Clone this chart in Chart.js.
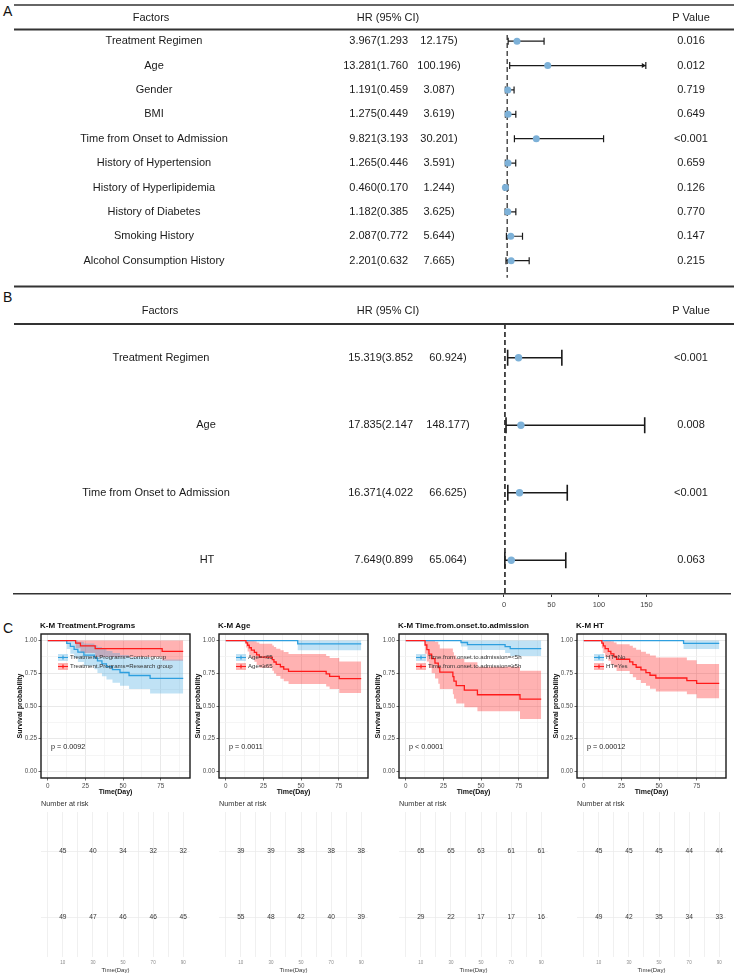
<!DOCTYPE html>
<html>
<head>
<meta charset="utf-8">
<script src="https://cdn.jsdelivr.net/npm/chart.js@4.4.1/dist/chart.umd.min.js"></script>
<style>
  body { margin: 0; background: #fff; }
  #wrap { position: relative; width: 734px; height: 976px; overflow: hidden; font-family: "Liberation Sans", Arial, sans-serif; }
  #wrap canvas { position: absolute; }
  .tag { position: absolute; font-size: 14px; line-height: 1; color: #111; }
</style>
</head>
<body>
<div id="wrap">
  <div class="tag" style="left:3px;top:4px">A</div>
  <div class="tag" style="left:3px;top:290px">B</div>
  <div class="tag" style="left:3px;top:621px">C</div>
  <canvas id="forestA" width="734" height="290" style="left:0;top:0"></canvas>
  <canvas id="forestB" width="734" height="322" style="left:0;top:288px"></canvas>
</div>
<script>
// ---- A: univariate cox ----
const factorsA = ['Treatment Regimen', 'Age', 'Gender', 'BMI', 'Time from Onset to Admission',
  'History of Hypertension', 'History of Hyperlipidemia', 'History of Diabetes', 'Smoking History',
  'Alcohol Consumption History'];
const hrA   = [3.967, 13.281, 1.191, 1.275, 9.821, 1.265, 0.460, 1.182, 2.087, 2.201];
const lowA  = [1.293, 1.760, 0.459, 0.449, 3.193, 0.446, 0.170, 0.385, 0.772, 0.632];
const highA = [12.175, 100.196, 3.087, 3.619, 30.201, 3.591, 1.244, 3.625, 5.644, 7.665];
const pA    = ['0.016', '0.012', '0.719', '0.649', '<0.001', '0.659', '0.126', '0.770', '0.147', '0.215'];

// ---- B: multivariate cox ----
const factorsB = ['Treatment Regimen', 'Age', 'Time from Onset to Admission', 'HT'];
const hrB   = [15.319, 17.835, 16.371, 7.649];
const lowB  = [3.852, 2.147, 4.022, 0.899];
const highB = [60.924, 148.177, 66.625, 65.064];
const pB    = ['<0.001', '0.008', '<0.001', '0.063'];
const ticksB = [0, 50, 100, 150];

// ---- C: K-M curves (time, survival, upper CI, lower CI) ----
const trtCtrlTime = [0, 12.6, 15, 17.5, 20, 24, 31, 33, 36, 39, 43, 48, 54, 68, 90];
const trtCtrlSurv = [1, .978, .956, .933, .911, .889, .867, .844, .822, .800, .778, .756, .733, .711, .711];
const trtCtrlUp   = [1, 1, 1, 1, .99, .978, .964, .95, .935, .92, .905, .89, .872, .855, .855];
const trtCtrlLow  = [1, .936, .899, .866, .836, .808, .78, .753, .727, .702, .678, .654, .63, .595, .595];
const trtResTime = [0, 18.5, 21.7, 31.5, 76, 90];
const trtResSurv = [1, .980, .959, .939, .918, .918];
const trtResUp   = [1, 1, 1, 1, 1, 1];
const trtResLow  = [1, .941, .905, .875, .845, .845];

const ageLowTime = [0, 47.8, 90];
const ageLowSurv = [1, .974, .974];
const ageLowUp   = [1, 1, 1];
const ageLowLow  = [1, .925, .925];
const ageHighTime = [0, 13.4, 14.5, 15.6, 17, 19, 20.5, 22.3, 30.9, 32, 33.5, 36.3, 38.5, 41.7, 66.7, 69, 75.4, 90];
const ageHighSurv = [1, .982, .964, .945, .927, .909, .891, .873, .855, .836, .818, .800, .782, .764, .745, .727, .709, .709];
const ageHighUp   = [1, 1, 1, 1, 1, .995, .985, .975, .962, .95, .938, .925, .912, .898, .882, .866, .84, .84];
const ageHighLow  = [1, .947, .916, .888, .862, .838, .814, .792, .77, .749, .729, .709, .689, .669, .649, .629, .6, .6];

const onsetLowTime = [0, 36.7, 41, 66, 69.4, 90];
const onsetLowSurv = [1, .985, .969, .954, .938, .938];
const onsetLowUp   = [1, 1, 1, 1, 1, 1];
const onsetLowLow  = [1, .955, .928, .905, .882, .882];
const onsetHighTime = [0, 12.8, 14, 15.4, 17.2, 19.4, 21.6, 22.6, 31.3, 32, 33.5, 38.9, 47.6, 75.9, 90];
const onsetHighSurv = [1, .966, .931, .897, .862, .828, .793, .759, .724, .690, .655, .621, .586, .552, .552];
const onsetHighUp   = [1, 1, 1, 1, 1, .99, .97, .94, .91, .885, .86, .835, .80, .77, .77];
const onsetHighLow  = [1, .9, .84, .79, .75, .71, .67, .63, .59, .555, .52, .49, .46, .40, .40];

const htNoTime = [0, 66.3, 90];
const htNoSurv = [1, .978, .978];
const htNoUp   = [1, 1, 1];
const htNoLow  = [1, .935, .935];
const htYesTime = [0, 12, 13, 14.2, 16.3, 18, 20, 21.8, 30.5, 32.6, 34.8, 38, 41.3, 44, 47.9, 68.5, 75, 90];
const htYesSurv = [1, .980, .959, .939, .918, .898, .878, .857, .837, .816, .796, .776, .755, .735, .714, .694, .673, .673];
const htYesUp   = [1, 1, 1, 1, 1, .995, .985, .972, .96, .945, .93, .915, .9, .885, .87, .85, .82, .82];
const htYesLow  = [1, .941, .905, .874, .845, .818, .792, .768, .744, .72, .698, .676, .654, .632, .61, .59, .56, .56];

// number at risk
const riskTimes = [10, 30, 50, 70, 90];
const riskTrtCtrl = [45, 40, 34, 32, 32];
const riskTrtRes  = [49, 47, 46, 46, 45];
const riskAgeLow  = [39, 39, 38, 38, 38];
const riskAgeHigh = [55, 48, 42, 40, 39];
const riskOnsetLow  = [65, 65, 63, 61, 61];
const riskOnsetHigh = [29, 22, 17, 17, 16];
const riskHtNo  = [45, 45, 45, 44, 44];
const riskHtYes = [49, 42, 35, 34, 33];

const FONT = '"Liberation Sans", Arial, sans-serif';
const DOT = '#7db1d8';
const LINE = ['#2e9fdf', '#ff1a1a'];
const BAND = ['rgba(46,159,223,0.3)', 'rgba(255,0,0,0.3)'];
Chart.defaults.font.family = FONT;

const pts = (t, v) => t.map((x, i) => ({x: x, y: v[i]}));
const fmt = v => v.toFixed(3);

function forestChart(id, o) {
  return new Chart(document.getElementById(id), {
    type: 'scatter',
    data: {
      datasets: [
        { data: o.hr.map((v, i) => ({x: v, y: i})), pointRadius: o.r,
          pointBackgroundColor: DOT, pointBorderColor: DOT, pointBorderWidth: 0 },
        { type: 'line', data: [{x: 1, y: o.ref[0]}, {x: 1, y: o.ref[1]}], borderColor: '#222',
          borderWidth: o.lw, borderDash: [5, 3], pointRadius: 0 }
      ]
    },
    options: {
      responsive: false, animation: false,
      layout: { padding: o.pad },
      plugins: { legend: { display: false }, tooltip: { enabled: false } },
      scales: {
        x: o.x,
        y: { type: 'linear', min: -0.5, max: o.ymax, reverse: true, display: false }
      }
    },
    plugins: [{
      id: 'forestBars',
      beforeDatasetsDraw(chart) {
        const {ctx, scales: {x, y}} = chart;
        ctx.save();
        ctx.strokeStyle = '#1a1a1a'; ctx.fillStyle = '#1a1a1a'; ctx.lineWidth = o.lw;
        o.low.forEach((lo, i) => {
          const yy = y.getPixelForValue(i);
          const x0 = x.getPixelForValue(lo);
          const x1 = x.getPixelForValue(Math.min(o.high[i], o.clip));
          ctx.beginPath();
          ctx.moveTo(x0, yy); ctx.lineTo(x1, yy);
          ctx.moveTo(x0, yy - o.cap); ctx.lineTo(x0, yy + o.cap);
          ctx.moveTo(x1, yy - o.cap); ctx.lineTo(x1, yy + o.cap);
          ctx.stroke();
          if (o.high[i] > o.clip) {
            // interval runs past the axis: arrow head
            ctx.beginPath();
            ctx.moveTo(x1, yy); ctx.lineTo(x1 - 4, yy - 2.5); ctx.lineTo(x1 - 4, yy + 2.5);
            ctx.closePath(); ctx.fill();
          }
        });
        ctx.restore();
      },
      afterDraw(chart) {
        const {ctx, scales: {y}} = chart;
        ctx.save();
        ctx.strokeStyle = '#333';
        o.rules.forEach(r => {
          ctx.lineWidth = r.w;
          ctx.beginPath(); ctx.moveTo(14, r.y); ctx.lineTo(734, r.y); ctx.stroke();
        });
        ctx.fillStyle = '#1a1a1a';
        ctx.font = '11px ' + FONT;
        ctx.textBaseline = 'middle';
        const put = (s, xx, yy, al) => { ctx.textAlign = al; ctx.fillText(s, xx, yy); };
        put('Factors', o.col.head, o.headY, 'center');
        put('HR (95% CI)', 388, o.headY, 'center');
        put('P Value', 691, o.headY, 'center');
        o.names.forEach((n, i) => {
          const yy = y.getPixelForValue(i);
          put(n, o.col.name[i], yy, 'center');
          put(fmt(o.hr[i]) + '(' + fmt(o.low[i]), o.col.hr1, yy, 'right');
          put(fmt(o.high[i]) + ')', o.col.hr2, yy, 'center');
          put(o.p[i], 691, yy, 'center');
        });
        ctx.restore();
      }
    }]
  });
}

forestChart('forestA', {
  names: factorsA, hr: hrA, low: lowA, high: highA, p: pA,
  r: 3.5, lw: 1.2, cap: 3.5, clip: 43,
  ref: [-0.25, 9.7], ymax: 10.04, headY: 18,
  pad: { top: 29, left: 14, right: 0, bottom: 4 },
  x: { type: 'linear', min: -148.4, max: 68.5, display: false },
  rules: [{ y: 5, w: 1.3 }, { y: 29.5, w: 2 }, { y: 286.5, w: 2 }],
  col: { head: 151, name: factorsA.map(() => 154), hr1: 408, hr2: 439 }
});

forestChart('forestB', {
  names: factorsB, hr: hrB, low: lowB, high: highB, p: pB,
  r: 3.7, lw: 1.6, cap: 8, clip: 1e9,
  ref: [-0.5, 3.5], ymax: 3.5, headY: 23,
  pad: { top: 36, left: 14, right: 0, bottom: 0 },
  x: {
    type: 'linear', min: -516, max: 238, position: 'bottom',
    afterBuildTicks: s => { s.ticks = ticksB.map(v => ({ value: v })); },
    afterFit: s => { s.height = 16; },
    border: { display: true, color: '#333', width: 1.5 },
    grid: { drawOnChartArea: false, drawTicks: true, tickLength: 3, color: '#333' },
    ticks: { font: { size: 7.5 }, color: '#444', padding: 3, maxRotation: 0, autoSkip: false }
  },
  rules: [{ y: 36, w: 2 }],
  col: { head: 160, name: [161, 206, 156, 207], hr1: 413, hr2: 448 }
});

// ---- C ----
const kmPanels = [
  { title: 'K-M Treatment.Programs', p: 'p = 0.0092', box: 41,
    groups: ['Treatment.Programs=Control group', 'Treatment.Programs=Research group'],
    series: [[trtCtrlTime, trtCtrlSurv, trtCtrlUp, trtCtrlLow], [trtResTime, trtResSurv, trtResUp, trtResLow]],
    risk: [riskTrtCtrl, riskTrtRes] },
  { title: 'K-M Age', p: 'p = 0.0011', box: 219,
    groups: ['Age=<65', 'Age=≥65'],
    series: [[ageLowTime, ageLowSurv, ageLowUp, ageLowLow], [ageHighTime, ageHighSurv, ageHighUp, ageHighLow]],
    risk: [riskAgeLow, riskAgeHigh] },
  { title: 'K-M Time.from.onset.to.admission', p: 'p < 0.0001', box: 399,
    groups: ['Time.from.onset.to.admission=<5h', 'Time.from.onset.to.admission=≥5h'],
    series: [[onsetLowTime, onsetLowSurv, onsetLowUp, onsetLowLow], [onsetHighTime, onsetHighSurv, onsetHighUp, onsetHighLow]],
    risk: [riskOnsetLow, riskOnsetHigh] },
  { title: 'K-M HT', p: 'p = 0.00012', box: 577,
    groups: ['HT=No', 'HT=Yes'],
    series: [[htNoTime, htNoSurv, htNoUp, htNoLow], [htYesTime, htYesSurv, htYesUp, htYesLow]],
    risk: [riskHtNo, riskHtYes] }
];

const xMajor = [0, 25, 50, 75];
const yMajor = [0, 0.25, 0.5, 0.75, 1];
const wrap = document.getElementById('wrap');

function addCanvas(left, top, w, h) {
  const cv = document.createElement('canvas');
  cv.width = w; cv.height = h;
  cv.style.left = left + 'px'; cv.style.top = top + 'px';
  wrap.appendChild(cv);
  return cv;
}

kmPanels.forEach(cfg => {
  const datasets = [];
  cfg.series.forEach((s, k) => {
    datasets.push({ data: pts(s[0], s[2]), stepped: true, borderColor: 'transparent', borderWidth: 0,
      pointRadius: 0, fill: '+1', backgroundColor: BAND[k] });
    datasets.push({ data: pts(s[0], s[3]), stepped: true, borderColor: 'transparent', borderWidth: 0,
      pointRadius: 0, fill: false });
  });
  [1, 0].forEach(k => {
    const s = cfg.series[k];
    datasets.push({ data: pts(s[0], s[1]), stepped: true, borderColor: LINE[k], borderWidth: 1.3,
      pointRadius: 0, fill: false });
  });

  new Chart(addCanvas(cfg.box - 40, 615, 191, 185), {
    type: 'line',
    data: { datasets: datasets },
    options: {
      responsive: false, animation: false,
      layout: { padding: { top: 19, left: 0, right: 2, bottom: 0 } },
      plugins: { legend: { display: false }, tooltip: { enabled: false }, filler: { drawTime: 'beforeDatasetsDraw' } },
      scales: {
        x: {
          type: 'linear', min: -4.5, max: 94.5,
          afterBuildTicks: s => { s.ticks = [0, 12.5, 25, 37.5, 50, 62.5, 75, 87.5].map(v => ({ value: v })); },
          afterFit: s => { s.height = 22; },
          border: { display: false },
          grid: {
            color: c => xMajor.includes(c.tick.value) ? '#e3e3e3' : '#f2f2f2',
            tickColor: c => xMajor.includes(c.tick.value) ? '#444' : 'transparent',
            tickLength: 2.5, lineWidth: 0.8
          },
          ticks: { callback: v => xMajor.includes(v) ? String(v) : '', font: { size: 6.3 }, color: '#4d4d4d',
            padding: 1.5, maxRotation: 0, autoSkip: false },
          title: { display: true, text: 'Time(Day)', font: { size: 7, weight: 'bold' }, color: '#111',
            padding: { top: 0, bottom: 4 } }
        },
        y: {
          type: 'linear', min: -0.05, max: 1.05,
          afterBuildTicks: s => { s.ticks = [0, .125, .25, .375, .5, .625, .75, .875, 1].map(v => ({ value: v })); },
          afterFit: s => { s.width = 40; },
          border: { display: false },
          grid: {
            color: c => yMajor.includes(c.tick.value) ? '#e3e3e3' : '#f2f2f2',
            tickColor: c => yMajor.includes(c.tick.value) ? '#444' : 'transparent',
            tickLength: 2.5, lineWidth: 0.8
          },
          ticks: { callback: v => yMajor.includes(v) ? v.toFixed(2) : '', font: { size: 6.3 }, color: '#4d4d4d',
            padding: 1.5, autoSkip: false },
          title: { display: true, text: 'Survival probability', font: { size: 7, weight: 'bold' }, color: '#111',
            padding: { top: 15, bottom: 0 } }
        }
      }
    },
    plugins: [{
      id: 'kmDeco',
      afterDraw(chart) {
        const {ctx, chartArea: a} = chart;
        ctx.save();
        ctx.strokeStyle = '#1a1a1a'; ctx.lineWidth = 1.4;
        ctx.strokeRect(a.left, a.top, a.right - a.left, a.bottom - a.top);
        ctx.fillStyle = '#111'; ctx.textAlign = 'left'; ctx.textBaseline = 'middle';
        ctx.font = 'bold 8px ' + FONT;
        ctx.fillText(cfg.title, a.left - 1, a.top - 8);
        cfg.groups.forEach((g, k) => {
          const yy = a.top + 23.5 + k * 9;
          const x0 = a.left + 17;
          ctx.fillStyle = BAND[k]; ctx.fillRect(x0, yy - 3.5, 10, 7);
          ctx.strokeStyle = LINE[k]; ctx.lineWidth = 1.2;
          ctx.beginPath(); ctx.moveTo(x0, yy); ctx.lineTo(x0 + 10, yy);
          ctx.moveTo(x0 + 5, yy - 2); ctx.lineTo(x0 + 5, yy + 2); ctx.stroke();
          ctx.fillStyle = '#333'; ctx.font = '6.1px ' + FONT;
          ctx.fillText(g, x0 + 12, yy);
        });
        ctx.fillStyle = '#222'; ctx.font = '7.2px ' + FONT;
        ctx.fillText(cfg.p, a.left + 10, a.top + 113);
        ctx.restore();
      }
    }]
  });

  // number at risk table
  new Chart(addCanvas(cfg.box - 40, 795, 191, 181), {
    type: 'scatter',
    data: { datasets: cfg.risk.map((r, k) => ({ data: riskTimes.map(t => ({ x: t, y: 2 - k })), pointRadius: 0 })) },
    options: {
      responsive: false, animation: false,
      layout: { padding: { top: 17, left: 0, right: 2, bottom: 0 } },
      plugins: { legend: { display: false }, tooltip: { enabled: false } },
      scales: {
        x: {
          type: 'linear', min: -4.5, max: 94.5,
          afterBuildTicks: s => { s.ticks = [0, 10, 20, 30, 40, 50, 60, 70, 80, 90].map(v => ({ value: v })); },
          afterFit: s => { s.height = 19; },
          border: { display: false },
          grid: { color: '#ececec', drawTicks: false, lineWidth: 0.8 },
          ticks: { callback: v => riskTimes.includes(v) ? String(v) : '', font: { size: 4.5 }, color: '#8a8a8a',
            padding: 3, maxRotation: 0, autoSkip: false },
          title: { display: true, text: 'Time(Day)', font: { size: 6 }, color: '#333', padding: { top: 0, bottom: 2 } }
        },
        y: {
          type: 'linear', min: 0.4, max: 2.6,
          afterBuildTicks: s => { s.ticks = [{ value: 1 }, { value: 2 }]; },
          afterFit: s => { s.width = 40; },
          border: { display: false },
          grid: { color: '#ececec', drawTicks: false, lineWidth: 0.8 },
          ticks: { display: false }
        }
      }
    },
    plugins: [{
      id: 'riskText',
      afterDraw(chart) {
        const {ctx, chartArea: a} = chart;
        ctx.save();
        ctx.fillStyle = '#333'; ctx.textBaseline = 'middle';
        ctx.font = '7.3px ' + FONT; ctx.textAlign = 'left';
        ctx.fillText('Number at risk', a.left, a.top - 8);
        ctx.font = '6.6px ' + FONT; ctx.textAlign = 'center';
        cfg.risk.forEach((r, k) => {
          chart.getDatasetMeta(k).data.forEach((el, j) => ctx.fillText(String(r[j]), el.x, el.y));
        });
        ctx.restore();
      }
    }]
  });
});
</script>
</body>
</html>
